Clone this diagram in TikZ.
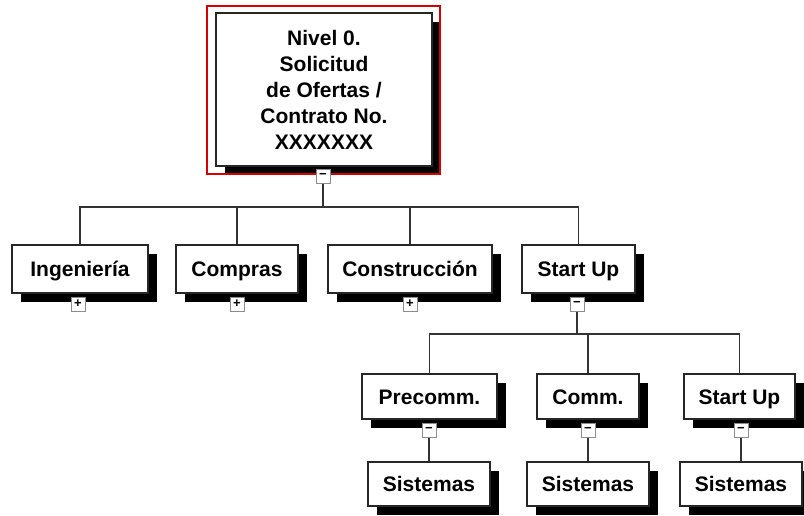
\documentclass[tikz,border=0pt]{standalone}
\usepackage{fontspec}
\setmainfont{Liberation Sans}
\usepackage{tikz}
\usetikzlibrary{calc,shadows}

\tikzset{
    wbs/.style={draw=black!85, line width=1.4pt, fill=white, inner sep=0pt, text height=17pt, text depth=2pt, font=\bfseries\fontsize{21}{26}\selectfont, general shadow={fill=black, shadow xshift=9pt, shadow yshift=-9pt}},
    toggle/.style={draw=black!45, line width=1pt, fill=white, minimum size=14pt, inner sep=0pt, font=\bfseries\fontsize{13}{13}\selectfont},
    link/.style={draw=black!80, line width=1.3pt},
    redframe/.style={draw=red!85!black, line width=2pt}
}

\begin{document}
\begin{tikzpicture}[x=1pt, y=-1pt]
                \useasboundingbox (0,0) rectangle (804,515);

                % level 0
                \node[wbs, text height=, text depth=, minimum width=216pt, minimum height=153pt, align=center] (top) at (324,89.5) {Nivel 0.\\ Solicitud\\de Ofertas /\\Contrato No.\\XXXXXXX};
                \draw[redframe] ($(top.north west)+(-8,-6)$) rectangle ($(top.south east)+(7,7)$);

                % level 1
                \node[wbs, minimum width=136pt, minimum height=48pt] (ing) at (80,269) {Ingeniería};
                \node[wbs, minimum width=122pt, minimum height=48pt] (com) at (237,269) {Compras};
                \node[wbs, minimum width=164pt, minimum height=48pt] (con) at (410,269) {Construcción};
                \node[wbs, minimum width=113pt, minimum height=48pt] (sta) at (578.5,269) {Start Up};

                % level 2
                \node[wbs, minimum width=135pt, minimum height=45pt] (pre) at (429.5,396.5) {Precomm.};
                \node[wbs, minimum width=102pt, minimum height=45pt] (cmm) at (588,396.5) {Comm.};
                \node[wbs, minimum width=111pt, minimum height=45pt] (stu) at (739.5,396.5) {Start Up};

                % level 3
                \node[wbs, minimum width=122pt, minimum height=44pt] (sis1) at (429,484) {Sistemas};
                \node[wbs, minimum width=122pt, minimum height=44pt] (sis2) at (588,484) {Sistemas};
                \node[wbs, minimum width=122pt, minimum height=44pt] (sis3) at (741,484) {Sistemas};

                % toggles
                \node[toggle] (t0) at (323,176) {−};
                \node[toggle] (t1) at (78,304) {+};
                \node[toggle] (t2) at (237,304) {+};
                \node[toggle] (t3) at (410,304) {+};
                \node[toggle] (t4) at (577,304) {−};
                \node[toggle] (t5) at (429,430) {−};
                \node[toggle] (t6) at (588,430) {−};
                \node[toggle] (t7) at (741,430) {−};

                % buses
                \coordinate (b0) at (323,207);
                \coordinate (b1) at (577,334);

                % links
                \draw[link] (t0.south) -- (b0);
                \draw[link] (ing.north) |- (b0);
                \draw[link] (com.north) |- (b0);
                \draw[link] (con.north) |- (b0);
                \draw[link] (sta.north) |- (b0);
                \draw[link] (t4.south) -- (b1);
                \draw[link] (pre.north) |- (b1);
                \draw[link] (cmm.north) |- (b1);
                \draw[link] (stu.north) |- (b1);
                \draw[link] (t5.south) -- (sis1.north);
                \draw[link] (t6.south) -- (sis2.north);
                \draw[link] (t7.south) -- (sis3.north);
            \end{tikzpicture}
\end{document}
